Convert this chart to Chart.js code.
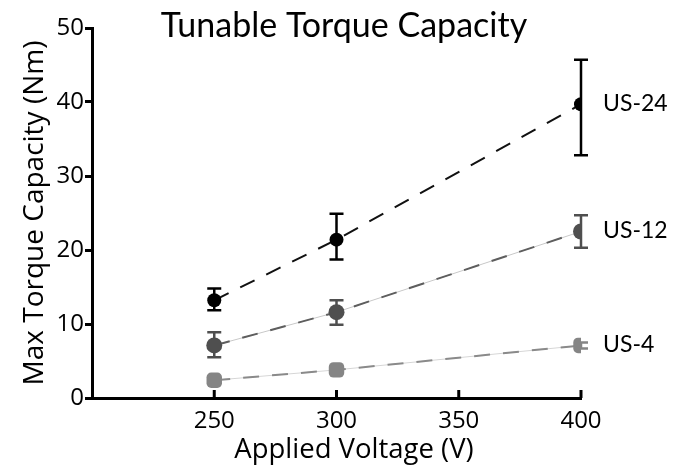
<!DOCTYPE html>
<html>
<head>
<meta charset="utf-8">
<script src="https://cdn.jsdelivr.net/npm/chart.js@4.4.0/dist/chart.umd.min.js"></script>
<style>
  body { margin: 0; background: #fff; }
  #wrap { width: 681px; height: 466px; }
</style>
</head>
<body>
<div id="wrap"><canvas id="chart" width="681" height="466"></canvas></div>
<script>
// values
const voltages = [250, 300, 400];
const xTicks = [250, 300, 350, 400];

const us24 = [13.2, 21.4, 39.7];
const us24Hi = [14.8, 24.9, 45.7];
const us24Lo = [11.85, 18.7, 32.8];

const us12 = [7.1, 11.6, 22.5];
const us12Hi = [8.9, 13.2, 24.7];
const us12Lo = [5.5, 9.9, 20.3];

const us4 = [2.4, 3.8, 7.1];
const us4Hi = [2.7, 4.1, 7.5];
const us4Lo = [2.1, 3.5, 6.7];

const seriesNames = ['US-24', 'US-12', 'US-4'];

const axisFont = "'Open Sans', sans-serif";

function pts(vals) {
  return voltages.map((v, i) => ({ x: v, y: vals[i] }));
}

const series = [
  { name: seriesNames[0], vals: us24, hi: us24Hi, lo: us24Lo, color: '#000000', dash: '#111111', under: null, style: 'circle', r: 7 },
  { name: seriesNames[1], vals: us12, hi: us12Hi, lo: us12Lo, color: '#4f4f4f', dash: '#5e5e5e', under: '#c8c8c8', style: 'circle', r: 8 },
  { name: seriesNames[2], vals: us4, hi: us4Hi, lo: us4Lo, color: '#858585', dash: '#8a8a8a', under: '#d6d6d6', style: 'rectRounded', r: 9 }
];

let datasets = [];
series.forEach(s => {
  if (s.under) {
    datasets.push({
      data: pts(s.vals), borderColor: s.under, borderWidth: 1,
      pointRadius: 0, fill: false, order: 5
    });
  }
  datasets.push({
    data: pts(s.vals), borderColor: s.dash, borderWidth: 2, borderDash: [16, 13],
    pointRadius: s.r, pointStyle: s.style, pointBackgroundColor: s.color,
    pointBorderColor: s.color, pointBorderWidth: 0, fill: false, order: 1
  });
});

const extras = {
  id: 'extras',
  beforeDatasetsDraw(chart) {
    const ctx = chart.ctx;
    const xs = chart.scales.x, ys = chart.scales.y;
    ctx.save();
    // error bars
    series.forEach(s => {
      ctx.strokeStyle = s.color;
      ctx.lineWidth = 2.5;
      voltages.forEach((v, i) => {
        const px = xs.getPixelForValue(v);
        const top = ys.getPixelForValue(s.hi[i]);
        const bot = ys.getPixelForValue(s.lo[i]);
        ctx.beginPath();
        ctx.moveTo(px, top); ctx.lineTo(px, bot);
        ctx.moveTo(px - 7, top); ctx.lineTo(px + 7, top);
        ctx.moveTo(px - 7, bot); ctx.lineTo(px + 7, bot);
        ctx.stroke();
      });
    });
    // inward x ticks
    ctx.strokeStyle = '#000';
    ctx.lineWidth = 3;
    const by = ys.getPixelForValue(0);
    xTicks.forEach(t => {
      const px = xs.getPixelForValue(t);
      ctx.beginPath();
      ctx.moveTo(px, by); ctx.lineTo(px, by - 8);
      ctx.stroke();
    });
    ctx.restore();
  },
  afterDraw(chart) {
    const ctx = chart.ctx;
    const xs = chart.scales.x, ys = chart.scales.y;
    ctx.save();
    ctx.fillStyle = '#000';
    ctx.textBaseline = 'middle';
    ctx.textAlign = 'left';
    ctx.font = '23px Lato';
    series.forEach(s => {
      const n = s.vals.length - 1;
      ctx.fillText(s.name, xs.getPixelForValue(voltages[n]) + 22, ys.getPixelForValue(s.vals[n]) - 1);
    });
    ctx.textAlign = 'center';
    ctx.textBaseline = 'alphabetic';
    ctx.font = '34px Lato';
    ctx.fillText('Tunable Torque Capacity', 344, 37);
    // axis titles
    ctx.font = '27.5px ' + axisFont;
    ctx.fillText('Applied Voltage (V)', 354, 458);
    ctx.translate(35, 213);
    ctx.rotate(-Math.PI / 2);
    ctx.textBaseline = 'middle';
    ctx.font = '28px ' + axisFont;
    ctx.fillText('Max Torque Capacity (Nm)', 0, 0);
    ctx.restore();
  }
};

new Chart('chart', {
  type: 'line',
  data: { datasets: datasets },
  options: {
    responsive: false,
    animation: false,
    layout: { padding: { top: 28, right: 100, left: 8, bottom: 0 } },
    plugins: { legend: { display: false }, tooltip: { enabled: false } },
    scales: {
      x: {
        type: 'linear', min: 200, max: 400,
        afterBuildTicks: s => { s.ticks = xTicks.map(v => ({ value: v })); },
        afterFit: s => { s.height = 68; },
        grid: { display: false },
        border: { color: '#000', width: 3 },
        ticks: { color: '#000', font: { family: axisFont, size: 24 }, padding: 1 }
      },
      y: {
        min: 0, max: 50,
        afterFit: s => { s.width = 84; },
        grid: { drawOnChartArea: false, color: '#000', tickLength: 7, tickWidth: 3 },
        border: { color: '#000', width: 3 },
        ticks: { stepSize: 10, color: '#000', font: { family: axisFont, size: 24 }, padding: 1 }
      }
    }
  },
  plugins: [extras]
});
</script>
</body>
</html>
